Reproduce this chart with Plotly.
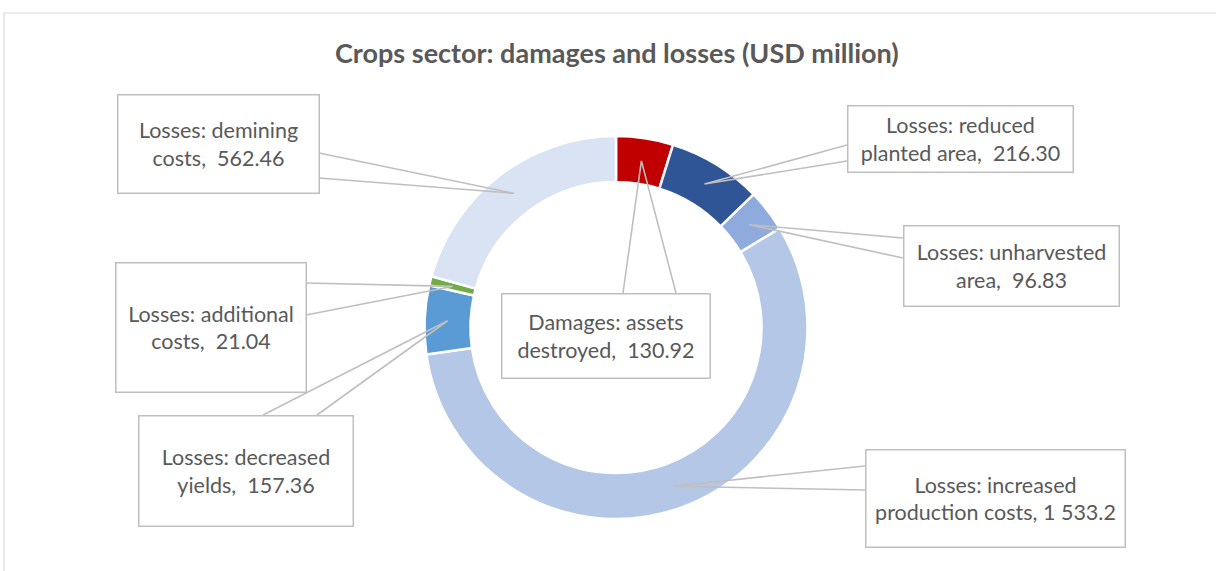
import math
import plotly.graph_objects as go

# ---- data ----
categories = [
    "Damages: assets destroyed",
    "Losses: reduced planted area",
    "Losses: unharvested area",
    "Losses: increased production costs",
    "Losses: decreased yields",
    "Losses: additional costs",
    "Losses: demining costs",
]
values = [130.92, 216.30, 96.83, 1533.2, 157.36, 21.04, 562.46]
label_texts = [
    "Damages: assets<br>destroyed,  130.92",
    "Losses: reduced<br>planted area,  216.30",
    "Losses: unharvested<br>area,  96.83",
    "Losses: increased<br>production costs, 1 533.2",
    "Losses: decreased<br>yields,  157.36",
    "Losses: additional<br>costs,  21.04",
    "Losses: demining<br>costs,  562.46",
]
colors = ["#C00000", "#2F5597", "#8FAADC", "#B4C7E7", "#5B9BD5", "#70AD47", "#DAE3F3"]

# ---- layout constants (pixels) ----
W, H = 1216, 571
CX, CY, R = 616, 327.5, 191.5
HOLE = 0.76
FONT = "Lato"
TXT = "#595959"
GRAY = "#BFBFBF"

# callout boxes: (x0, y0, x1, y1), wedge base side and two base offsets
boxes = [
    ((501, 293, 710, 378), "top", (623, 676)),
    ((847, 105, 1073, 172), "left", (145, 161)),
    ((903, 225, 1119, 306), "left", (238, 258)),
    ((865, 449, 1125, 547), "left", (466, 490)),
    ((138, 415, 353, 526), "top", (263, 317)),
    ((115, 262, 306, 392), "right", (283, 315)),
    ((117, 95, 319, 194), "right", (153, 178)),
]


def px(x):
    return x / W


def py(y):
    return 1 - y / H


fig = go.Figure(
    go.Pie(
        labels=categories,
        values=values,
        hole=HOLE,
        sort=False,
        direction="clockwise",
        rotation=0,
        textinfo="none",
        marker=dict(colors=colors, line=dict(color="white", width=2.5)),
        domain=dict(x=[px(CX - R), px(CX + R)], y=[py(CY + R), py(CY - R)]),
        showlegend=False,
    )
)

total = sum(values)
rmid = R * (1 + HOLE) / 2
shapes = []
annotations = []
cum = 0.0
for v, txt, (box, side, base) in zip(values, label_texts, boxes):
    ang = (cum + v / 2) / total * 2 * math.pi
    cum += v
    tx = CX + rmid * math.sin(ang)
    ty = CY - rmid * math.cos(ang)
    x0, y0, x1, y1 = box
    if side == "top":
        b1, b2 = (base[0], y0), (base[1], y0)
    elif side == "left":
        b1, b2 = (x0, base[0]), (x0, base[1])
    else:
        b1, b2 = (x1, base[0]), (x1, base[1])
    path = "M {},{} L {},{} L {},{}".format(
        px(b1[0]), py(b1[1]), px(tx), py(ty), px(b2[0]), py(b2[1])
    )
    shapes.append(dict(type="path", xref="paper", yref="paper", path=path,
                       line=dict(color=GRAY, width=1.6)))
    annotations.append(dict(
        x=px((x0 + x1) / 2), y=py((y0 + y1) / 2), xref="paper", yref="paper",
        xanchor="center", yanchor="middle", showarrow=False,
        text=txt, align="center", valign="middle",
        width=x1 - x0 - 2, height=y1 - y0 - 2,
        bgcolor="white", bordercolor=GRAY, borderwidth=1.5, borderpad=0,
        font=dict(family=FONT, size=21.5, color=TXT),
    ))

# outer chart frame
shapes.append(dict(type="rect", xref="paper", yref="paper",
                   x0=px(4), x1=px(W + 20), y0=py(H + 20), y1=py(13),
                   line=dict(color="#D9D9D9", width=1.2), layer="below"))

annotations.append(dict(
    x=px(617), y=py(52), xref="paper", yref="paper", xanchor="center", yanchor="middle",
    showarrow=False, text="<b>Crops sector: damages and losses (USD million)</b>",
    font=dict(family=FONT, size=27, color=TXT),
))

fig.update_layout(
    width=W, height=H,
    margin=dict(l=0, r=0, t=0, b=0),
    paper_bgcolor="white", plot_bgcolor="white",
    shapes=shapes, annotations=annotations,
    font=dict(family=FONT, color=TXT),
)

fig.write_html("out.html", config={"displayModeBar": False},
               post_script="document.body.style.margin='0';")
